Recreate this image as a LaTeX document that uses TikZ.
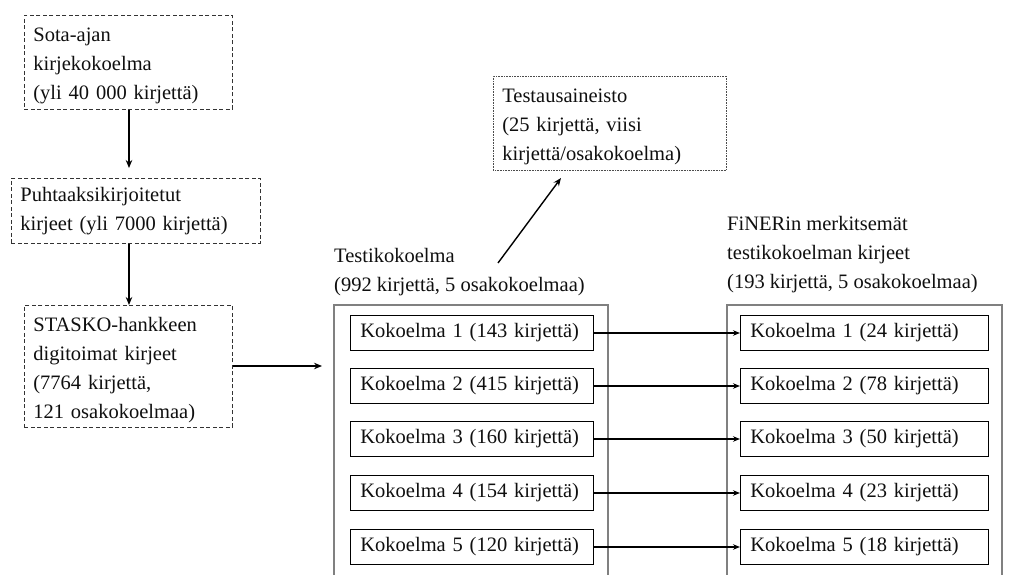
\documentclass[tikz,border=0pt]{standalone}
\usepackage{fontspec}
\setmainfont{Liberation Serif}
\usetikzlibrary{arrows.meta, positioning}
\definecolor{txtcolor}{RGB}{15,15,15}
\definecolor{framegray}{RGB}{128,128,128}
\tikzset{
  dbox/.style   = {draw=black!80, dash pattern=on 4pt off 2.5pt, line width=0.8pt,
                   anchor=north west, align=left, inner xsep=9pt, inner ysep=0pt},
  tbox/.style   = {draw=black!70, densely dotted, line width=0.6pt,
                   anchor=north west, align=left, inner xsep=9pt, inner ysep=0pt},
  kbox/.style   = {draw=black, line width=0.8pt, align=left, inner xsep=10pt,
                   inner ysep=0pt, minimum height=35pt},
  lbl/.style    = {anchor=north west, align=left, inner sep=0pt},
  outer/.style  = {draw=framegray, line width=1.2pt},
  arrow/.style  = {-{Stealth[length=8pt, width=6.5pt]}, line width=1.8pt},
  harrow/.style = {-{Stealth[length=7pt, width=5.5pt]}, line width=1.3pt},
}

\begin{document}
\begin{tikzpicture}[x=1pt, y=-1pt,
    every node/.style={font=\fontsize{20.5}{29}\selectfont, text=txtcolor}]
  \clip (0,0) rectangle (1013,575);
  % source chain
  \node[dbox, text width=190pt, minimum height=94pt] (sota) at (24,15)
    {\rule{0pt}{20pt}Sota-ajan\\kirjekokoelma\\(yli 40 000 kirjettä)};
  \node[dbox, text width=231pt, minimum height=65pt] (puht) at (11,178)
    {Puhtaaksikirjoitetut\\kirjeet (yli 7000 kirjettä)};
  \node[dbox, text width=190pt, minimum height=122pt] (stasko) at (24,305)
    {\rule{0pt}{22pt}STASKO-hankkeen\\digitoimat kirjeet\\(7764 kirjettä,\\121 osakokoelmaa)};
  \draw[arrow] (sota.south -| 129,0) -- (129,168);
  \draw[arrow] (puht.south -| 129,0) -- (stasko.north -| 129,0);
  \coordinate (testin) at (322,366);
  \draw[arrow] (stasko.east |- testin) -- (testin);

  % test sample
  \node[tbox, text width=215pt, minimum height=94pt] (testaus) at (493,76)
    {\rule{0pt}{21pt}Testausaineisto\\(25 kirjettä, viisi\\kirjettä/osakokoelma)};
  \coordinate (tstart) at (498,263);
  \coordinate (tend) at (561,178);
  \draw[arrow, line width=1.4pt] (tstart) -- (tend);

  % collections
  \node[lbl] (testi) at (334,248) {Testikokoelma\\(992 kirjettä, 5 osakokoelmaa)};
  \node[lbl] (finer) at (727,216) {FiNERin merkitsemät\\testikokoelman kirjeet\\(193 kirjettä, 5 osakokoelmaa)};
  \draw[outer] (334,305) rectangle (608,600);
  \draw[outer] (727,305) rectangle (1002,600);
  \foreach \i/\y/\a/\b in {1/333/143/24, 2/386/415/78, 3/439/160/50, 4/493/154/23, 5/547/120/18} {
    \node[kbox, anchor=west, text width=223pt] (k\i) at (350,\y) {Kokoelma \i\ (\a\ kirjettä)};
    \node[kbox, anchor=west, text width=228pt] (f\i) at (740,\y) {Kokoelma \i\ (\b\ kirjettä)};
    \draw[harrow] (k\i) -- (f\i);
  }
\end{tikzpicture}
\end{document}
